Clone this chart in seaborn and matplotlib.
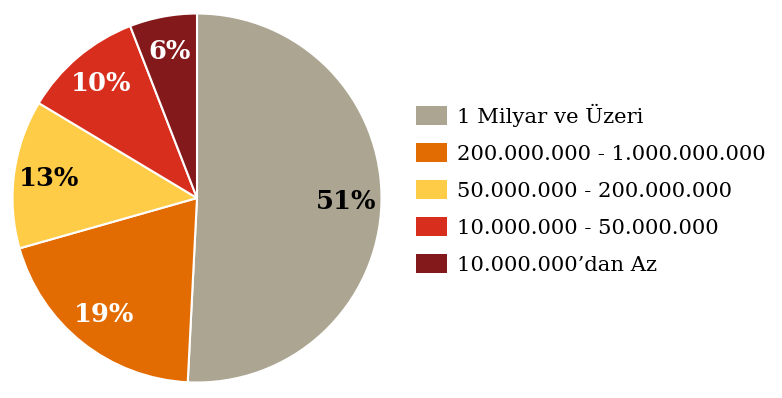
import matplotlib
matplotlib.use("Agg")
import matplotlib.pyplot as plt
import seaborn as sns
from matplotlib.patches import Patch

sns.set_theme(style="white")
plt.rcParams['font.family'] = ['DejaVu Serif']
plt.rcParams['text.color'] = 'black'

categories = ["1 Milyar ve Üzeri", "200.000.000 - 1.000.000.000",
              "50.000.000 - 200.000.000", "10.000.000 - 50.000.000",
              "10.000.000’dan Az"]
shares = [50.8, 19.8, 13.0, 10.5, 5.9]
pct_labels = ["51%", "19%", "13%", "10%", "6%"]
colors = ["#ABA592", "#E36C02", "#FFCC47", "#D82E1E", "#84191B"]
label_colors = ["black", "white", "black", "white", "white"]

fig = plt.figure(figsize=(7.82, 3.98), dpi=100)
cx, cy, r = 197, 198, 184.5
ax = fig.add_axes([(cx - r) / 782, (398 - cy - r) / 398, 2 * r / 782, 2 * r / 398])
wedges, texts = ax.pie(shares, colors=colors, labels=pct_labels, labeldistance=0.81,
                       startangle=90, counterclock=False,
                       wedgeprops=dict(edgecolor="white", linewidth=1.5))
for t, c in zip(texts, label_colors):
    t.set_ha("center"); t.set_va("center")
    t.set_color(c); t.set_fontsize(18.5); t.set_fontweight("bold")
ax.set_xlim(-1, 1); ax.set_ylim(-1, 1)
ax.set_aspect("equal")

handles = [Patch(facecolor=c, edgecolor="none") for c in colors]
leg = fig.legend(handles, categories, loc="center left",
                 bbox_to_anchor=(416 / 782, (398 - 189) / 398),
                 frameon=False, fontsize=15.2, handlelength=1.47, handleheight=1.04,
                 handletextpad=0.47, labelspacing=0.76, borderaxespad=0, borderpad=0)
for t in leg.get_texts():
    t.set_color("black")

fig.savefig("out.png", dpi=100)
